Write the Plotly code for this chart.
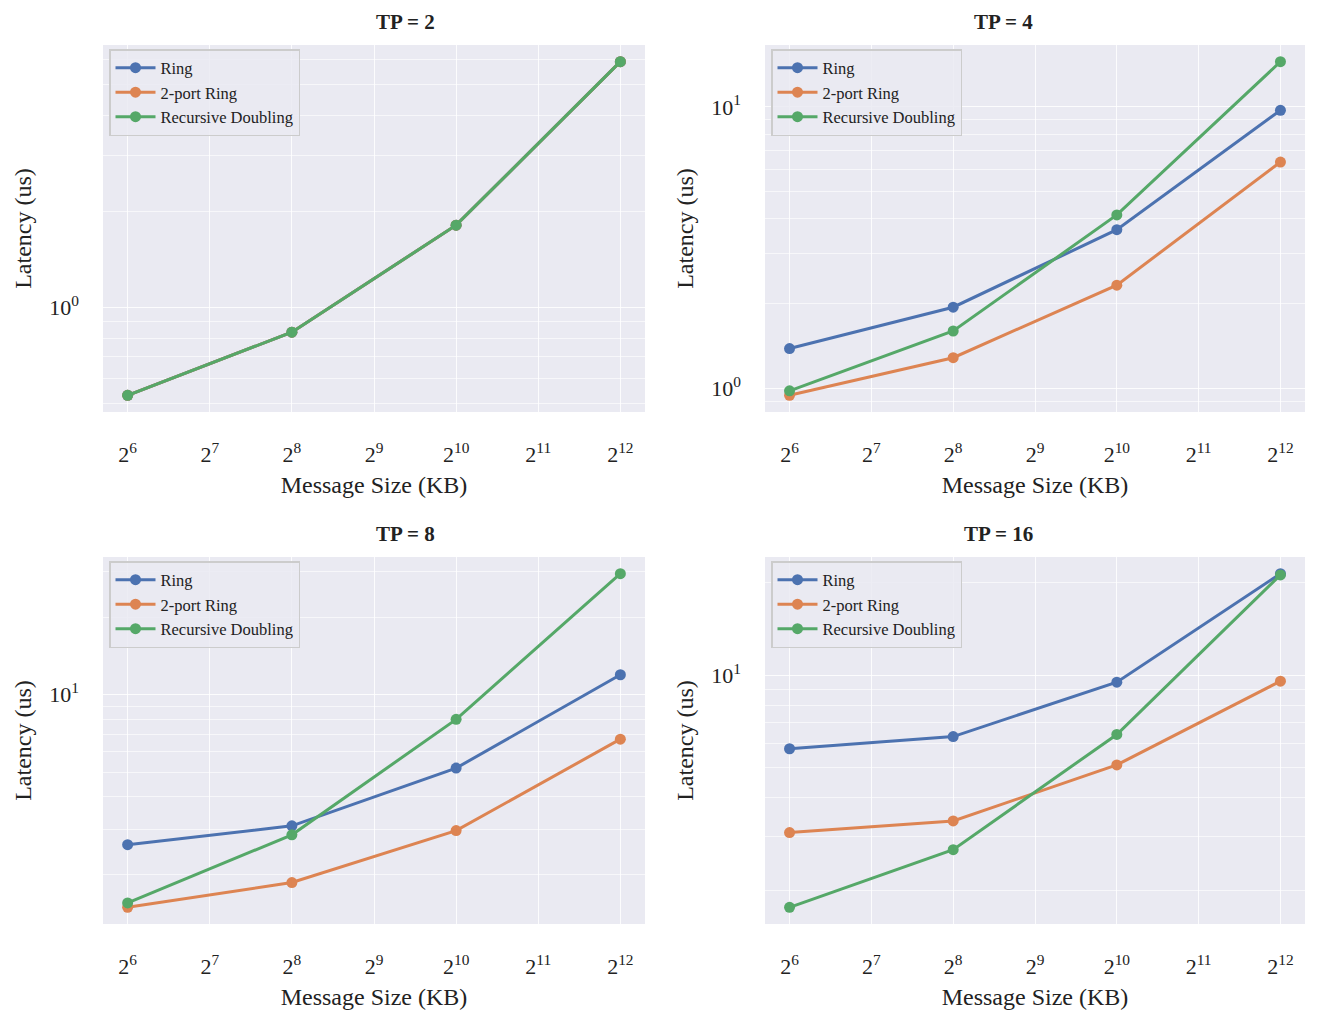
import numpy as np
import plotly.graph_objects as go

sizes_kb = [64, 256, 1024, 4096]
panels = ["TP = 2", "TP = 4", "TP = 8", "TP = 16"]
series_names = ["Ring", "2-port Ring", "Recursive Doubling"]
colors = ["#4C72B0", "#DD8452", "#55A868"]

ring = [
    [0.53, 0.836, 1.81, 5.89],
    [1.383, 1.94, 3.66, 9.73],
    [2.61, 3.09, 5.18, 11.94],
    [5.77, 6.32, 9.50, 21.4],
]
two_port_ring = [
    [0.53, 0.836, 1.81, 5.89],
    [0.943, 1.283, 2.324, 6.37],
    [1.49, 1.86, 2.96, 6.71],
    [3.08, 3.36, 5.11, 9.57],
]
recursive_doubling = [
    [0.53, 0.836, 1.81, 5.89],
    [0.978, 1.597, 4.13, 14.49],
    [1.55, 2.85, 8.01, 29.5],
    [1.76, 2.71, 6.42, 21.2],
]
all_series = [ring, two_port_ring, recursive_doubling]

x_tickvals = [2 ** k for k in range(6, 13)]
x_ticktext = [f"2<sup>{k}</sup>" for k in range(6, 13)]
y_major = [0.1, 1, 10, 100]
y_major_text = ["10<sup>-1</sup>", "10<sup>0</sup>", "10<sup>1</sup>", "10<sup>2</sup>"]
y_minor = [m * d for d in (0.1, 1, 10) for m in range(2, 10)]

W, H = 1322, 1023
px_x = [(103, 645), (765, 1305), (103, 645), (765, 1305)]
px_y = [(45, 412), (45, 412), (557, 924), (557, 924)]
title_y = [22, 22, 534, 534]

FONT = "Liberation Serif, Times New Roman, serif"
fig = go.Figure()

for i in range(4):
    ax = "" if i == 0 else str(i + 1)
    leg = "legend" if i == 0 else f"legend{i + 1}"
    for s in range(3):
        fig.add_trace(go.Scatter(
            x=sizes_kb, y=all_series[s][i], mode="lines+markers",
            name=series_names[s],
            line=dict(color=colors[s], width=3),
            marker=dict(color=colors[s], size=11),
            xaxis="x" + ax, yaxis="y" + ax, legend=leg,
        ))
    vals = [v for ser in all_series for v in ser[i]]
    lo, hi = np.log10(min(vals)), np.log10(max(vals))
    pad = (hi - lo) * 0.05
    xl = np.log10(2) * 5.7
    xh = np.log10(2) * 12.3
    x0, x1 = px_x[i]
    y0, y1 = px_y[i]
    grid = dict(showgrid=True, gridcolor="rgba(255,255,255,0.85)", gridwidth=1,
                zeroline=False, showline=False, ticks="",
                tickfont=dict(family=FONT, size=22, color="#222"))
    fig.update_layout(**{
        "xaxis" + ax: dict(type="log", range=[xl, xh], domain=[x0 / W, x1 / W],
                           anchor="y" + ax, tickvals=x_tickvals, ticktext=x_ticktext,
                           ticklabelstandoff=27,
                           title=dict(text="Message Size (KB)", font=dict(family=FONT, size=24, color="#222"), standoff=10),
                           automargin=False, **grid),
        "yaxis" + ax: dict(type="log", range=[lo - pad, hi + pad], domain=[1 - y1 / H, 1 - y0 / H],
                           anchor="x" + ax, tickvals=y_major, ticktext=y_major_text,
                           ticklabelstandoff=23,
                           title=dict(text="Latency (us)", font=dict(family=FONT, size=24, color="#222"), standoff=10),
                           minor=dict(tickvals=y_minor, showgrid=True, gridcolor="rgba(255,255,255,0.6)", gridwidth=0.7, ticks=""),
                           automargin=False, **grid),
        leg: dict(x=(x0 + 6) / W, y=1 - (y0 + 4) / H, xanchor="left", yanchor="top",
                  bgcolor="rgba(234,234,242,0.85)", bordercolor="#CCCCCC", borderwidth=1.5,
                  font=dict(family=FONT, size=16.5, color="#222"), tracegroupgap=0,
                  itemwidth=40),
    })
    fig.add_annotation(text=f"<b>{panels[i]}</b>", x=(x0 + x1) / 2 / W, y=1 - title_y[i] / H,
                       xref="paper", yref="paper", showarrow=False,
                       font=dict(family=FONT, size=21, color="#222"), yanchor="middle")

fig.update_layout(width=W, height=H, margin=dict(l=0, r=0, t=0, b=0),
                  paper_bgcolor="white", plot_bgcolor="#EAEAF2",
                  font=dict(family=FONT, color="#222"))
fig.write_html("out.html")
